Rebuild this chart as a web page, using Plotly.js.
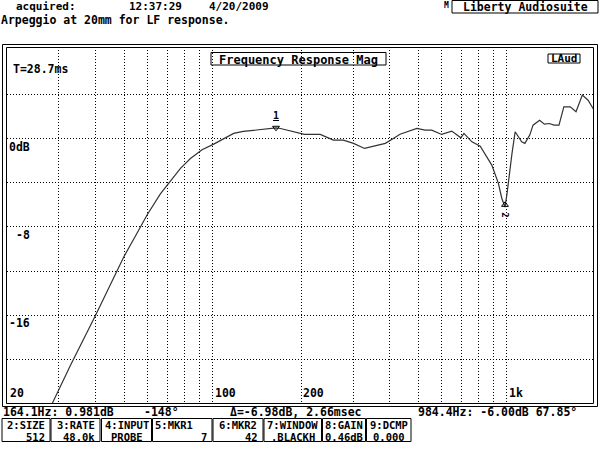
<!DOCTYPE html>
<html>
<head>
<meta charset="utf-8">
<script src="https://cdn.plot.ly/plotly-3.0.1.min.js"></script>
<style>html,body{margin:0;padding:0;background:#fff;}#chart{width:600px;height:450px;}</style>
</head>
<body>
<div id="chart"></div>
<script>
// ---- data ----
const freqHz = [27, 28.5, 32.9, 40, 45, 49.9, 54.7, 59.9, 66.4, 71.8,
  77.7, 84, 92, 100.8, 109, 117.8, 127, 137.8, 150, 164.1,
  170, 198, 205, 232, 257, 278, 301, 328, 361, 386,
  411, 433, 494, 527, 555, 600, 649, 697, 714, 760,
  811, 849, 888, 935, 960, 984.4, 1000, 1040, 1066, 1122,
  1150, 1195, 1226, 1291, 1340, 1392, 1446, 1502, 1560, 1640,
  1716, 1803, 1886, 1991];
const magDb = [-25.3, -24, -20.5, -16, -13.2, -10.7, -8.8, -6.9, -5.0, -3.9,
  -2.7, -1.8, -1.0, -0.5, 0.0, 0.47, 0.65, 0.77, 0.85, 0.98,
  0.92, 0.53, 0.38, 0.38, -0.14, -0.14, -0.43, -0.89, -0.59, -0.43,
  0.02, 0.4, 0.92, 0.77, 0.77, 0.38, 0.68, 0.07, 0.47, -0.29,
  -0.68, -1.5, -2.4, -4.05, -5.4, -6.2, -5.0, -1.34, 0.62, -0.29,
  -0.43, 0.32, 1.22, 1.67, 1.31, 1.37, 1.22, 1.22, 2.88, 2.88,
  2.43, 3.94, 3.48, 2.43];

const xGridHz = [30, 40, 50, 60, 70, 80, 90, 100, 200, 300, 400, 500, 600, 700, 800, 900, 1000];
const yGridDb = [-20, -16, -12, -8, -4, 0, 4];
const xLabelHz = [20, 100, 200, 1000];
const xLabelText = ["20", "100", "200", "1k"];
const yLabelDb = [0, -8, -16];
const yLabelText = ["0dB", "-8", "-16"];

const marker1 = {f: 164.1, db: 0.981};
const marker2 = {f: 984.4, db: -6.00};

const headerTime = "12:37:29";
const headerDate = "4/20/2009";
const headerNote = "Arpeggio at 20mm for LF response.";
const statusLeft = "164.1Hz: 0.981dB";
const statusPhase = "-148\u00B0";
const statusDelta = "\u0394=-6.98dB, 2.66msec";
const statusRight = "984.4Hz: -6.00dB 67.85\u00B0";
const boxTop = ["2:SIZE", "3:RATE", "4:INPUT", "5:MKR1", "6:MKR2", "7:WINDOW", "8:GAIN", "9:DCMP"];
const boxBottom = ["512", "48.0k", "PROBE", "7", "42", ".BLACKH", "0.46dB", "0.000"];

// ---- geometry helpers (pixel -> paper) ----
const L = 7, R = 593, T = 47, B = 403;
const px = x => (x - L) / (R - L);
const py = y => (B - y) / (B - T);
const FONT = "DejaVu Sans Mono";
const f = (s) => ({family: FONT, size: s, color: "#000", weight: "bold"});

const annotations = [];
const shapes = [];
function txt(text, x, y, o) {
  o = o || {};
  annotations.push(Object.assign({
    text: text, x: px(x), y: py(y), xref: "paper", yref: "paper",
    xanchor: "left", yanchor: "middle", showarrow: false, borderpad: 0,
    font: f(11.5)
  }, o));
}
function box(x0, y0, x1, y1) {
  shapes.push({type: "rect", xref: "paper", yref: "paper",
    x0: px(x0), x1: px(x1), y0: py(y0), y1: py(y1),
    line: {color: "#000", width: 1}, fillcolor: "rgba(0,0,0,0)", layer: "above"});
}

// header
txt("acquired:", 15, 6.5, {font: f(11)});
txt(headerTime, 128, 6.5, {font: f(11)});
txt(headerDate, 208, 6.5, {font: f(11)});
txt(headerNote, 0, 19.8);
txt("M", 443, 5, {font: f(8)});
box(452, 0.5, 598, 13);
txt("Liberty Audiosuite", 525, 7.3, {xanchor: "center", font: f(11.5)});

// frames
shapes.push({type: "rect", xref: "paper", yref: "paper", x0: px(2.5), x1: px(597.5), y0: py(44.5), y1: py(406.5), line: {color: "#000", width: 1}, layer: "above"});
shapes.push({type: "rect", xref: "paper", yref: "paper", x0: px(6.5), x1: px(593.5), y0: py(47.5), y1: py(403.5), line: {color: "#000", width: 1}, layer: "above"});

// in-plot labels
box(211, 52.5, 386, 65);
txt("Frequency Response Mag", 298.5, 59.5, {xanchor: "center", font: f(12)});
box(548, 54, 580, 63);
txt("LAud", 564, 59, {xanchor: "center", font: f(11)});
txt("T=28.7ms", 12, 69);

// axis labels drawn through the axes
yLabelDb.forEach((v, i) => {
  annotations.push({text: yLabelText[i], xref: "paper", x: px(30.5), yref: "y", y: v,
    xanchor: "right", yanchor: "top", yshift: 0, showarrow: false, borderpad: 0,
    font: f(11.5)});
});
xLabelHz.forEach((v, i) => {
  annotations.push({text: xLabelText[i], xref: "x", x: Math.log10(v), yref: "paper", y: 0,
    xanchor: "left", yanchor: "bottom", xshift: i === 0 ? 2 : 1, yshift: 2, showarrow: false, borderpad: 0,
    font: f(11.5)});
});

// markers: labels as text, triangles as marker symbols
annotations.push({text: "<u>1</u>", xref: "x", x: Math.log10(marker1.f), yref: "y", y: marker1.db,
  xanchor: "center", yanchor: "bottom", yshift: 6, showarrow: false, borderpad: 0,
  font: f(10)});
annotations.push({text: "2", xref: "x", x: Math.log10(marker2.f), yref: "y", y: marker2.db,
  xanchor: "center", yanchor: "top", yshift: -7, textangle: 90, showarrow: false, borderpad: 0,
  font: f(9)});

// status line
txt(statusLeft, 2, 411.5);
txt(statusPhase, 143, 411.5);
txt(statusDelta, 229, 411.5);
txt(statusRight, 417, 411.5);

// soft-key boxes
const bx = [[2, 50], [51, 100], [101.5, 151.5], [152.5, 212], [213, 263], [264, 321.5], [322.5, 365.5], [366.5, 411]];
const alignTop = ["center", "center", "center", "left", "center", "center", "center", "center"];
const alignBot = ["right", "right", "center", "right", "right", "center", "center", "center"];
bx.forEach((b, i) => {
  box(b[0], 418.5, b[1], 441.5);
  const mid = (b[0] + b[1]) / 2;
  const xt = alignTop[i] === "left" ? b[0] + 1.5 : mid;
  txt(boxTop[i], xt, 424.8, {xanchor: alignTop[i], font: f(10.5)});
  const xb = alignBot[i] === "right" ? b[1] - 4 : mid;
  txt(boxBottom[i], xb, 437, {xanchor: alignBot[i], font: f(10.5)});
});

const trace = {
  x: freqHz, y: magDb, type: "scatter", mode: "lines",
  line: {color: "#333", width: 1.2}, hoverinfo: "skip"
};
const markerTrace = {
  x: [marker1.f, marker2.f], y: [marker1.db, marker2.db], type: "scatter", mode: "markers",
  marker: {symbol: ["triangle-down-open", "triangle-up-open"], size: 6, color: "#000", line: {width: 1, color: "#000"}},
  hoverinfo: "skip", cliponaxis: false
};

const axisCommon = {
  showticklabels: false, ticks: "", showline: false, zeroline: false,
  showgrid: true, gridcolor: "#000", gridwidth: 1, griddash: "1px,2px"
};

const layout = {
  width: 600, height: 450,
  margin: {l: L, r: 600 - R, t: T, b: 450 - B, pad: 0},
  paper_bgcolor: "#fff", plot_bgcolor: "#fff",
  showlegend: false,
  xaxis: Object.assign({type: "log", range: [Math.log10(20), Math.log10(1960)], tickvals: xGridHz, tickmode: "array"}, axisCommon),
  yaxis: Object.assign({range: [-23.95, 8.3], tickvals: yGridDb, tickmode: "array"}, axisCommon),
  annotations: annotations,
  shapes: shapes
};

Plotly.newPlot("chart", [trace, markerTrace], layout, {staticPlot: true, displayModeBar: false});
</script>
</body>
</html>
